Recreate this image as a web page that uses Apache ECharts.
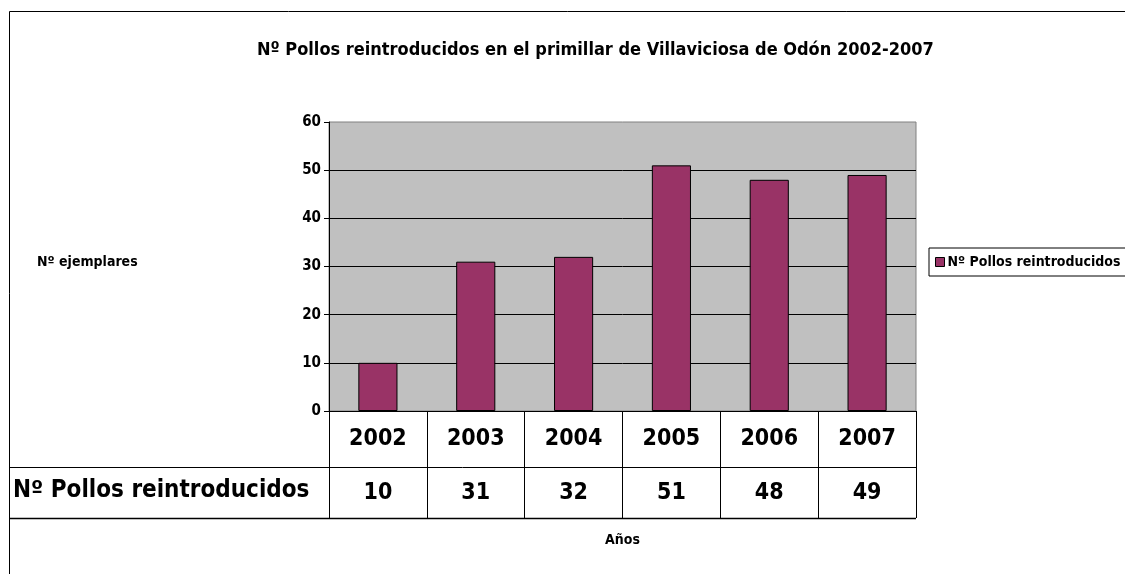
<!DOCTYPE html>
<html style="height: 100%">
<head>
    <meta charset="utf-8">
</head>
<body style="height: 100%; margin: 0; background: #fff">
<div id="container" style="width: 1125px; height: 574px"></div>
<script type="text/javascript" src="https://cdn.jsdelivr.net/npm/echarts@6/dist/echarts.min.js"></script>
<script type="text/javascript">
    var years = ['2002', '2003', '2004', '2005', '2006', '2007'];
    var pollos = [10, 31, 32, 51, 48, 49];
    var serieName = 'Nº Pollos reintroducidos';
    var yTicks = [0, 60, 10]; // min, max, interval

    var FONT = '"Liberation Sans Narrow", "Arial Narrow", "DejaVu Sans Condensed", sans-serif';

    var dom = document.getElementById("container");
    var myChart = echarts.init(dom);
    var option = {
        backgroundColor: '#ffffff',
        textStyle: { fontFamily: FONT, color: '#000', fontWeight: 'bold' },
        title: {
            text: 'Nº Pollos reintroducidos en el primillar de Villaviciosa de Odón 2002-2007',
            left: 252,
            top: 36,
            textStyle: { fontFamily: FONT, fontSize: 18, fontWeight: 'bold', color: '#000' }
        },
        legend: {
            data: [serieName],
            left: 929,
            top: 248,
            orient: 'vertical',
            icon: 'rect',
            itemWidth: 9,
            itemHeight: 9,
            itemGap: 0,
            padding: [7, 10, 7, 6],
            borderColor: '#000',
            borderWidth: 1,
            textStyle: { fontFamily: FONT, fontSize: 14, fontWeight: 'bold', color: '#000', padding: [0, 0, 0, -2] },
            itemStyle: { borderColor: '#000', borderWidth: 1 }
        },
        grid: {
            left: 329,
            right: 209,
            top: 122,
            bottom: 163,
            show: true,
            backgroundColor: '#C0C0C0',
            borderColor: '#808080',
            borderWidth: 1
        },
        xAxis: {
            type: 'category',
            data: years,
            name: 'Años',
            nameLocation: 'middle',
            nameGap: 122,
            nameTextStyle: { fontFamily: FONT, fontSize: 14, fontWeight: 'bold', color: '#000' },
            axisLine: { show: true, lineStyle: { color: '#000', width: 1 } },
            axisTick: { show: true, length: 107, lineStyle: { color: '#000', width: 1 } },
            axisLabel: {
                margin: 0,
                formatter: function (val, idx) {
                    return '{y|' + val + '}\n{v|' + pollos[idx] + '}';
                },
                rich: {
                    y: { fontFamily: FONT, fontSize: 23, fontWeight: 'bold', color: '#000', lineHeight: 56, height: 56 },
                    v: { fontFamily: FONT, fontSize: 23, fontWeight: 'bold', color: '#000', lineHeight: 52, height: 52 }
                }
            }
        },
        yAxis: {
            type: 'value',
            min: yTicks[0],
            max: yTicks[1],
            interval: yTicks[2],
            axisLine: { show: true, lineStyle: { color: '#000' } },
            axisTick: { show: true, length: 5, lineStyle: { color: '#000' } },
            splitLine: { show: true, showMaxLine: false, lineStyle: { color: '#000', width: 1 } },
            axisLabel: { margin: 8, fontFamily: FONT, fontSize: 15, fontWeight: 'bold', color: '#000' }
        },
        series: [{
            name: serieName,
            type: 'bar',
            data: pollos,
            barWidth: '40%',
            itemStyle: { color: '#993366', borderColor: '#000', borderWidth: 1 }
        }],
        graphic: [
            { type: 'rect', shape: { x: 9.5, y: 11.5, width: 1200, height: 700 },
              style: { fill: 'none', stroke: '#000', lineWidth: 1 }, silent: true },
            { type: 'line', shape: { x1: 9, y1: 467.5, x2: 916, y2: 467.5 },
              style: { stroke: '#000', lineWidth: 1 } },
            { type: 'line', shape: { x1: 9, y1: 518.5, x2: 916, y2: 518.5 },
              style: { stroke: '#000', lineWidth: 1.5 } },
            { type: 'text', left: 13, top: 479,
              style: { text: serieName, font: 'bold 24px ' + FONT, fill: '#000' } },
            { type: 'text', left: 37, top: 255,
              style: { text: 'Nº ejemplares', font: 'bold 14px ' + FONT, fill: '#000' } }
        ]
    };
    myChart.setOption(option);
</script>
</body>
</html>
